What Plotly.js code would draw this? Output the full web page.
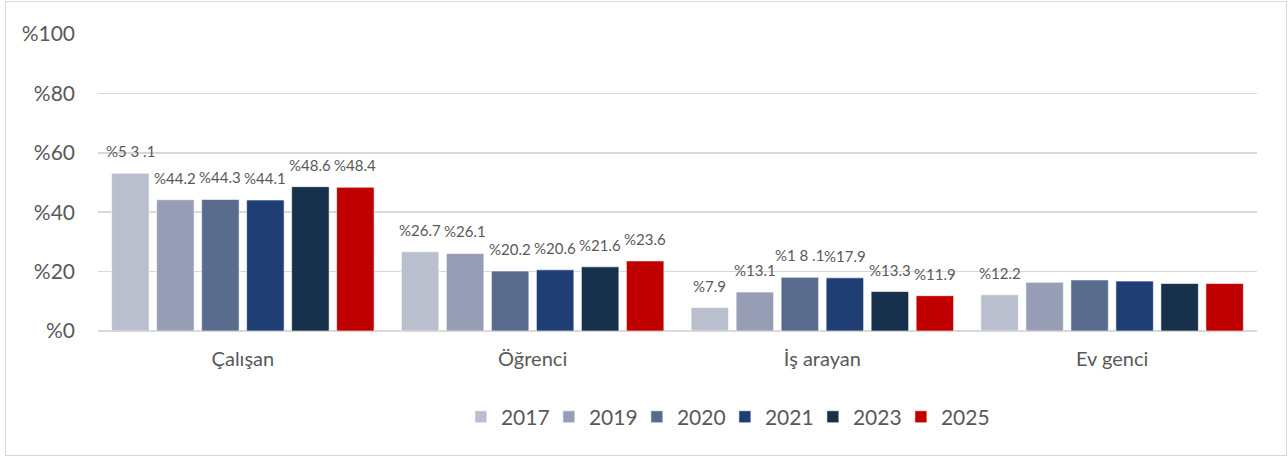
<!DOCTYPE html>
<html>
<head>
<meta charset="utf-8">
<script src="https://cdn.plot.ly/plotly-3.0.1.min.js"></script>
<style>
  html, body { margin: 0; padding: 0; background: #fff; }
  #wrap { position: relative; width: 1288px; height: 457px; }
  #chart { width: 1288px; height: 457px; }
  #frame { position: absolute; left: 5px; top: 1px; width: 1280px; height: 453px;
           border: 1px solid #D9D9D9; pointer-events: none; }
</style>
</head>
<body>
<div id="wrap">
  <div id="chart"></div>
  <div id="frame"></div>
</div>
<script>
// ---- data ----
const categories = ["Çalışan", "Öğrenci", "İş arayan", "Ev genci"];
const years = ["2017", "2019", "2020", "2021", "2023", "2025"];
const v2017 = [53.1, 26.7, 7.9, 12.2];
const v2019 = [44.2, 26.1, 13.1, 16.4];
const v2020 = [44.3, 20.2, 18.1, 17.2];
const v2021 = [44.1, 20.6, 17.9, 16.8];
const v2023 = [48.6, 21.6, 13.3, 16.0];
const v2025 = [48.4, 23.6, 11.9, 16.0];
const l2017 = ["%5 3 .1", "%26.7", "%7.9", "%12.2"];
const l2019 = ["%44.2", "%26.1", "%13.1", ""];
const l2020 = ["%44.3", "%20.2", "%1 8 .1", ""];
const l2021 = ["%44.1", "%20.6", "%17.9", ""];
const l2023 = ["%48.6", "%21.6", "%13.3", ""];
const l2025 = ["%48.4", "%23.6", "%11.9", ""];
const tickVals = [0, 20, 40, 60, 80, 100];
const tickLabels = ["%0", "%20", "%40", "%60", "%80", "%100"];

const seriesValues = [v2017, v2019, v2020, v2021, v2023, v2025];
const seriesLabels = [l2017, l2019, l2020, l2021, l2023, l2025];
const colors = ["#B9BFCD", "#979DB5", "#5A6C8E", "#1F3E73", "#17304B", "#C00000"];

const FONT = "Lato, 'Open Sans', sans-serif";
const TXT = "#595959";

const traces = years.map((y, i) => ({
  type: "bar",
  name: y,
  x: categories,
  y: seriesValues[i],
  marker: { color: colors[i], line: { color: "rgba(255,255,255,0.6)", width: 1 } },
  hoverinfo: "skip"
}));

// label annotations, shifted to each bar slot
const slotPx = 45;
const annotations = [];
seriesValues.forEach((vals, i) => {
  vals.forEach((v, j) => {
    const t = seriesLabels[i][j];
    if (!t) return;
    annotations.push({
      x: categories[j], y: v, xref: "x", yref: "y",
      text: t, showarrow: false,
      xshift: (i - 2.5) * slotPx, yshift: 22,
      font: { family: FONT, size: 15, color: TXT }
    });
  });
});

const layout = {
  width: 1288, height: 457,
  margin: { l: 98, r: 31, t: 34, b: 126 },
  paper_bgcolor: "#fff", plot_bgcolor: "#fff",
  barmode: "group", bargap: 0.068, bargroupgap: 0.167,
  font: { family: FONT, color: TXT },
  showlegend: true,
  legend: {
    orientation: "h", x: 0.3131, xanchor: "left", y: -0.29, yanchor: "middle",
    font: { family: FONT, size: 21, color: TXT }, traceorder: "normal",
    entrywidth: 43, entrywidthmode: "pixels", itemclick: false
  },
  xaxis: {
    type: "category", showgrid: false, zeroline: false, showline: false,
    ticks: "", tickfont: { family: FONT, size: 20, color: TXT },
    ticklabelstandoff: 14
  },
  yaxis: {
    range: [0, 100], tickvals: tickVals, ticktext: tickLabels,
    showgrid: true, gridcolor: "#D9D9D9", gridwidth: 1.5,
    zeroline: true, zerolinecolor: "#D9D9D9", zerolinewidth: 1.5,
    showline: false, ticks: "",
    tickfont: { family: FONT, size: 21, color: TXT },
    ticklabelstandoff: 22
  },
  annotations: annotations
};

Plotly.newPlot("chart", traces, layout, { displayModeBar: false, staticPlot: true });
</script>
</body>
</html>
